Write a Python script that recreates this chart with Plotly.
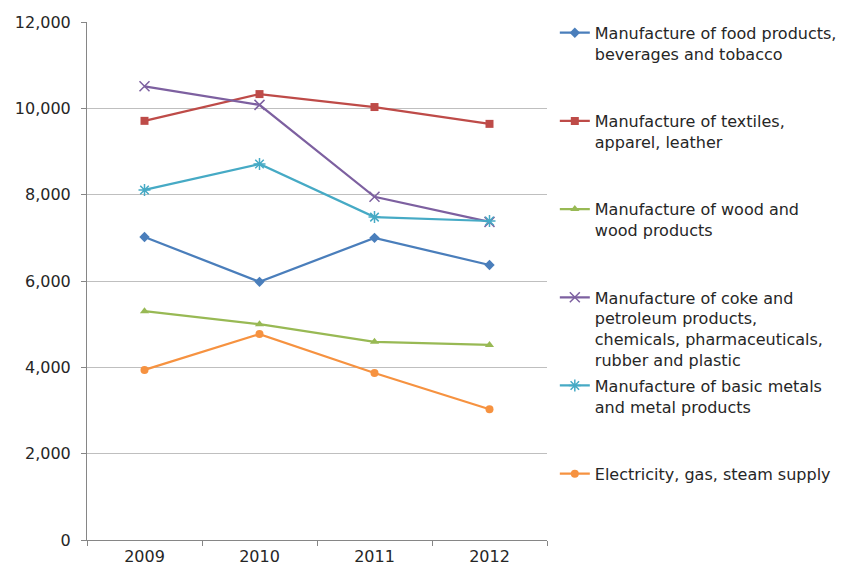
import plotly.graph_objects as go

years = ["2009", "2010", "2011", "2012"]
series_names = [
    "Manufacture of food products,<br>beverages and tobacco",
    "Manufacture of textiles,<br>apparel, leather",
    "Manufacture of wood and<br>wood products",
    "Manufacture of coke and<br>petroleum products,<br>chemicals, pharmaceuticals,<br>rubber and plastic",
    "Manufacture of basic metals<br>and metal products",
    "Electricity, gas, steam supply",
]
food = [7020, 5980, 7000, 6370]
textiles = [9710, 10330, 10030, 9640]
wood = [5300, 5000, 4590, 4520]
coke = [10510, 10080, 7950, 7370]
metals = [8110, 8710, 7480, 7390]
electricity = [3940, 4770, 3870, 3030]
values = [food, textiles, wood, coke, metals, electricity]

colors = ["#4A7EBB", "#BE4B48", "#98B954", "#7D60A0", "#46AAC5", "#F69240"]
symbols = ["diamond", "square", "triangle-up", "x-thin-open", "asterisk-open", "circle"]
sizes = [8, 8, 8, 10, 10, 8]

fig = go.Figure()
for i, (name, vals) in enumerate(zip(series_names, values)):
    nlines = name.count("<br>") + 1
    padded = name if i == len(series_names) - 1 else name + "<br>\u00a0" * (4 - nlines)
    open_marker = symbols[i].endswith("open")
    fig.add_trace(go.Scatter(
        x=years, y=vals, name=padded, mode="lines+markers",
        line=dict(color=colors[i], width=2.25),
        marker=dict(symbol=symbols[i], size=sizes[i], color=colors[i],
                    line=dict(color=colors[i], width=1.5 if open_marker else 0)),
        legendgroup=str(i),
    ))

fig.update_layout(
    width=850, height=569,
    margin=dict(l=87, r=303, t=22, b=29, autoexpand=False),
    paper_bgcolor="white", plot_bgcolor="white",
    font=dict(family="DejaVu Sans", size=15, color="#262626"),
    showlegend=True,
    legend=dict(x=1.017, xanchor="left", y=1.012, yanchor="top",
                valign="top", tracegroupgap=2, itemwidth=30, maxheight=1,
                font=dict(family="DejaVu Sans", size=16, color="#262626"),
                bgcolor="rgba(0,0,0,0)"),
    xaxis=dict(type="category", range=[-0.5, 3.5], tickson="boundaries",
               ticks="outside", ticklen=5, tickcolor="#868686",
               showline=True, linecolor="#868686", linewidth=1,
               ticklabelstandoff=2, automargin=False,
               showgrid=False, tickfont=dict(size=16, color="#262626")),
    yaxis=dict(range=[0, 12000], dtick=2000, tickformat=",d",
               ticks="outside", ticklen=5, tickcolor="#868686",
               showline=True, linecolor="#868686", linewidth=1,
               ticklabelstandoff=7, automargin=False,
               showgrid=True, gridcolor="#BFBFBF", gridwidth=1,
               zeroline=False, tickfont=dict(size=16, color="#262626")),
)

fig.write_html("out.html")
